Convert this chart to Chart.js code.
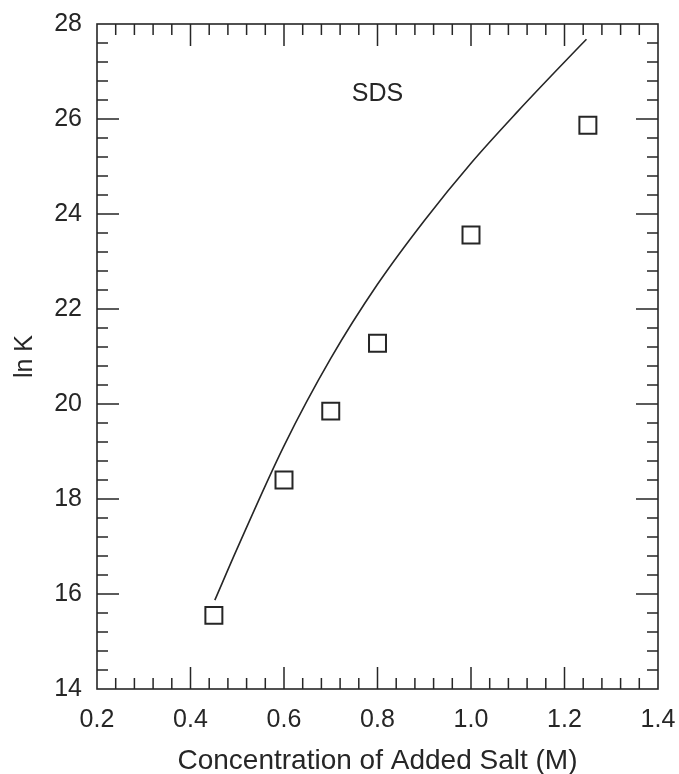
<!DOCTYPE html>
<html>
<head>
<meta charset="utf-8">
<script src="https://cdn.jsdelivr.net/npm/chart.js@4/dist/chart.umd.min.js"></script>
<style>
  html, body { margin: 0; padding: 0; background: #fff; }
  #wrap { width: 679px; height: 774px; position: relative; }
</style>
</head>
<body>
<div id="wrap"><canvas id="c"></canvas></div>
<script>
// Measured binding constants for SDS vs. added salt concentration
const saltConc = [0.45, 0.60, 0.70, 0.80, 1.00, 1.25];
const lnKMeasured = [15.55, 18.40, 19.85, 21.28, 23.56, 25.87];

// Model curve
const fitConc = [0.452, 0.50, 0.60, 0.70, 0.80, 0.90, 1.00, 1.10, 1.20, 1.247];
const fitLnK = [15.87, 16.96, 19.12, 20.96, 22.52, 23.86, 25.07, 26.16, 27.20, 27.68];

// Axis tick labels
const xTickValues = [0.2, 0.4, 0.6, 0.8, 1.0, 1.2, 1.4];
const yTickValues = [14, 16, 18, 20, 22, 24, 26, 28];

const seriesLabel = 'SDS';
const ink = '#262626';
const fontFamily = '"Liberation Sans", Arial, Helvetica, sans-serif';

// Frame with inward major/minor ticks on all four sides
const frameTicks = {
  id: 'frameTicks',
  afterDatasetsDraw(chart) {
    const { ctx, chartArea: a, scales: { x, y } } = chart;
    ctx.save();
    ctx.strokeStyle = ink;
    ctx.lineWidth = 1.6;
    ctx.strokeRect(a.left, a.top, a.right - a.left, a.bottom - a.top);
    ctx.lineWidth = 1.5;
    ctx.beginPath();
    const xMinor = 0.04, yMinor = 0.4;
    const nx = Math.round((x.max - x.min) / xMinor);
    for (let i = 1; i < nx; i++) {
      const px = x.getPixelForValue(x.min + i * xMinor);
      const len = i % 5 === 0 ? 22 : 11;
      ctx.moveTo(px, a.bottom); ctx.lineTo(px, a.bottom - len);
      ctx.moveTo(px, a.top); ctx.lineTo(px, a.top + len);
    }
    const ny = Math.round((y.max - y.min) / yMinor);
    for (let i = 1; i < ny; i++) {
      const py = y.getPixelForValue(y.min + i * yMinor);
      const len = i % 5 === 0 ? 22 : 11;
      ctx.moveTo(a.left, py); ctx.lineTo(a.left + len, py);
      ctx.moveTo(a.right, py); ctx.lineTo(a.right - len, py);
    }
    ctx.stroke();
    ctx.restore();
  },
  afterDraw(chart) {
    const { ctx, scales: { x, y } } = chart;
    ctx.save();
    ctx.fillStyle = ink;
    ctx.font = '25px ' + fontFamily;
    ctx.textAlign = 'center';
    ctx.textBaseline = 'middle';
    ctx.fillText(seriesLabel, x.getPixelForValue(0.8), y.getPixelForValue(26.53));
    ctx.restore();
  }
};

new Chart(document.getElementById('c'), {
  type: 'scatter',
  data: {
    datasets: [
      {
        label: 'model',
        data: fitConc.map((v, i) => ({ x: v, y: fitLnK[i] })),
        showLine: true,
        borderColor: ink,
        borderWidth: 1.6,
        pointRadius: 0,
        cubicInterpolationMode: 'monotone',
        fill: false
      },
      {
        label: seriesLabel,
        data: saltConc.map((v, i) => ({ x: v, y: lnKMeasured[i] })),
        showLine: false,
        pointStyle: 'rect',
        pointRadius: 12,
        pointBorderWidth: 2,
        pointBorderColor: ink,
        pointBackgroundColor: '#fff'
      }
    ]
  },
  options: {
    responsive: true,
    maintainAspectRatio: false,
    animation: false,
    layout: { padding: { top: 24, right: 21, bottom: 0, left: 0 } },
    plugins: { legend: { display: false }, tooltip: { enabled: false } },
    scales: {
      x: {
        type: 'linear',
        min: 0.2, max: 1.4,
        afterBuildTicks(scale) { scale.ticks = xTickValues.map(v => ({ value: v })); },
        afterFit(scale) {
          scale.height = 85;
          scale.paddingLeft = 0; scale.paddingRight = 0;
        },
        grid: { display: false, drawTicks: false },
        border: { display: false },
        ticks: {
          padding: 16,
          color: ink,
          font: { size: 25, family: fontFamily },
          callback: v => Number(v).toFixed(1)
        },
        title: {
          display: true,
          text: 'Concentration of Added Salt (M)',
          color: ink,
          font: { size: 28, family: fontFamily, lineHeight: 0.9 },
          padding: { top: 4, bottom: 0 }
        }
      },
      y: {
        type: 'linear',
        min: 14, max: 28,
        afterBuildTicks(scale) { scale.ticks = yTickValues.map(v => ({ value: v })); },
        afterFit(scale) {
          scale.width = 97;
          scale.paddingTop = 0; scale.paddingBottom = 0;
        },
        grid: { display: false, drawTicks: false },
        border: { display: false },
        ticks: {
          padding: 15,
          color: ink,
          font: { size: 25, family: fontFamily },
          callback: v => String(v)
        },
        title: {
          display: true,
          text: 'ln K',
          color: ink,
          font: { size: 25, family: fontFamily },
          padding: { top: 10, bottom: 0 }
        }
      }
    }
  },
  plugins: [frameTicks]
});
</script>
</body>
</html>
